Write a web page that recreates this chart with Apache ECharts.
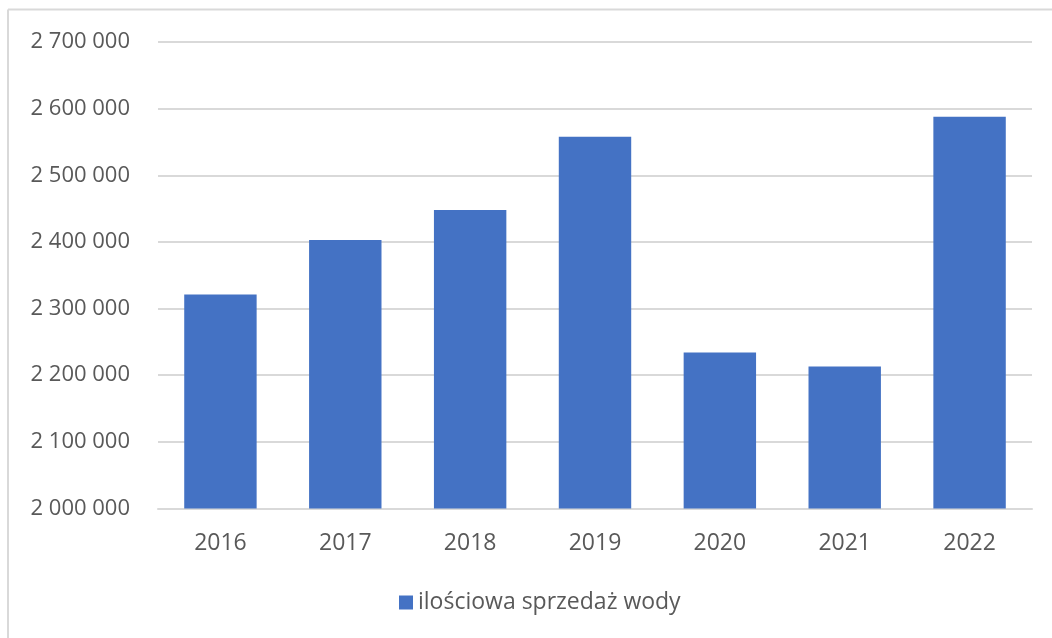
<!DOCTYPE html>
<html>
<head>
<meta charset="utf-8">
<script src="https://cdn.jsdelivr.net/npm/echarts@6/dist/echarts.min.js"></script>
<style>
html,body{margin:0;padding:0;background:#fff;}
#chart{width:1052px;height:638px;}
</style>
</head>
<body>
<div id="chart"></div>
<script>
const categories = ['2016','2017','2018','2019','2020','2021','2022'];
const seriesName = 'ilościowa sprzedaż wody';
const values = [2321000, 2403000, 2448000, 2558000, 2234000, 2213000, 2588000];
const yMin = 2000000, yMax = 2700000, yStep = 100000;

function fmt(v){
  return String(v).replace(/\B(?=(\d{3})+(?!\d))/g, ' ');
}

const chart = echarts.init(document.getElementById('chart'));
const font = 'Open Sans';
chart.setOption({
  animation: false,
  backgroundColor: '#ffffff',
  graphic: [
    {type:'line', shape:{x1:8, y1:9.5, x2:1052, y2:9.5}, style:{stroke:'#d9d9d9', lineWidth:2}},
    {type:'line', shape:{x1:8, y1:9.5, x2:8, y2:638}, style:{stroke:'#d9d9d9', lineWidth:2}}
  ],
  grid: {left:158, right:20, top:42, bottom:129.5, containLabel:false},
  legend: {
    bottom: 19, left: 394,
    itemWidth: 14, itemHeight: 14, itemGap: 8,
    icon: 'rect',
    textStyle: {color:'#595959', fontSize:23, fontFamily:font},
    data: [seriesName]
  },
  xAxis: {
    type: 'category',
    data: categories,
    axisLine: {show:true, lineStyle:{color:'#d9d9d9', width:2}},
    axisTick: {show:false},
    axisLabel: {color:'#595959', fontSize:23, fontFamily:font, margin:23}
  },
  yAxis: {
    type: 'value',
    min: yMin, max: yMax, interval: yStep,
    axisLine: {show:false},
    axisTick: {show:false},
    splitLine: {lineStyle:{color:'#d9d9d9', width:2}},
    axisLabel: {color:'#595959', fontSize:22, fontFamily:font, margin:28, formatter: fmt}
  },
  series: [{
    name: seriesName,
    type: 'bar',
    data: values,
    barCategoryGap: '42%',
    itemStyle: {color:'#4472C4'}
  }]
});
</script>
</body>
</html>
